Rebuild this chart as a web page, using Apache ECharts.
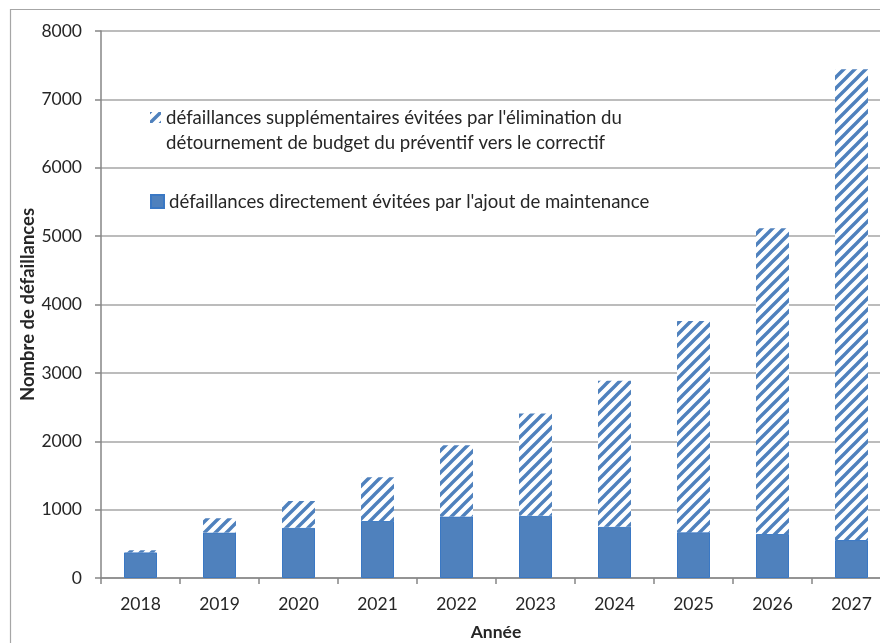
<!DOCTYPE html>
<html>
<head>
<meta charset="utf-8">
<script src="https://cdn.jsdelivr.net/npm/echarts@6/dist/echarts.min.js"></script>
<style>
html,body{margin:0;padding:0;background:#fff;}
#chart{width:880px;height:643px;}
</style>
</head>
<body>
<div id="chart"></div>
<script>
var years = ['2018','2019','2020','2021','2022','2023','2024','2025','2026','2027'];
var directAvoided = [375, 665, 735, 835, 900, 910, 750, 670, 645, 555];
var extraAvoided = [30, 210, 390, 640, 1040, 1495, 2135, 3090, 4470, 6885];
var yTicks = [0, 1000, 2000, 3000, 4000, 5000, 6000, 7000, 8000];
var nameDirect = "défaillances directement évitées par l'ajout de maintenance";
var nameExtra = "défaillances supplémentaires évitées par l'élimination du\ndétournement de budget du préventif vers le correctif";

var BLUE = '#4F81BD';
function makePattern(s, w) {
  var c = document.createElement('canvas');
  c.width = s; c.height = s;
  var g = c.getContext('2d');
  g.fillStyle = '#ffffff';
  g.fillRect(0, 0, s, s);
  g.strokeStyle = BLUE;
  g.lineWidth = w;
  g.beginPath();
  g.moveTo(-s, s); g.lineTo(s, -s);
  g.moveTo(-2, s + 2); g.lineTo(s + 2, -2);
  g.moveTo(0, 2 * s); g.lineTo(2 * s, 0);
  g.stroke();
  return c;
}
var pattern = {image: makePattern(11, 3.4), repeat: 'repeat'};

var FONT = 'Lato, "Open Sans", sans-serif';
var TXT = '#262626';

var chart = echarts.init(document.getElementById('chart'), null, {renderer: 'canvas'});
chart.setOption({
  backgroundColor: '#ffffff',
  animation: false,
  graphic: [{
    type: 'rect', left: 8, top: 7, silent: true,
    shape: {width: 900, height: 700},
    style: {fill: 'none', stroke: '#a6a6a6', lineWidth: 1.2}
  }],
  grid: {left: 101, top: 31, width: 790, height: 547, containLabel: false, outerBoundsMode: 'none'},
  legend: [{
    data: [nameExtra],
    formatter: function (n) { return '\n' + n; },
    left: 145, top: 75,
    itemWidth: 11, itemHeight: 11,
    icon: 'rect',
    textStyle: {fontFamily: FONT, fontSize: 18.6, color: TXT, lineHeight: 25},
    selectedMode: false
  }, {
    data: [nameDirect],
    left: 145, top: 187,
    itemWidth: 13, itemHeight: 13,
    icon: 'rect',
    textStyle: {fontFamily: FONT, fontSize: 18.6, color: TXT},
    selectedMode: false
  }],
  xAxis: {
    type: 'category',
    data: years,
    name: 'Année',
    nameLocation: 'middle',
    nameGap: 45,
    nameMoveOverlap: false,
    nameTextStyle: {fontFamily: FONT, fontSize: 17.5, fontWeight: 'bold', color: TXT},
    boundaryGap: true,
    axisLine: {lineStyle: {color: '#868686', width: 1.5}},
    axisTick: {show: true, alignWithLabel: false, length: 6, lineStyle: {color: '#868686', width: 1.5}},
    axisLabel: {fontFamily: FONT, fontSize: 17.5, color: TXT, margin: 17}
  },
  yAxis: {
    type: 'value',
    min: yTicks[0], max: yTicks[yTicks.length - 1], interval: 1000,
    name: 'Nombre de défaillances',
    nameLocation: 'middle',
    nameGap: 63,
    nameMoveOverlap: false,
    nameRotate: 90,
    nameTextStyle: {fontFamily: FONT, fontSize: 18.5, fontWeight: 'bold', color: TXT},
    axisLine: {show: true, lineStyle: {color: '#868686', width: 1.5}},
    axisTick: {show: true, length: 6, lineStyle: {color: '#868686', width: 1.5}},
    axisLabel: {fontFamily: FONT, fontSize: 17.5, color: TXT, margin: 19, formatter: function (v) { return String(v); }},
    splitLine: {show: true, lineStyle: {color: '#a6a6a6', width: 1.5}}
  },
  series: [{
    name: nameDirect,
    type: 'bar',
    stack: 'total',
    data: directAvoided,
    barWidth: 33,
    itemStyle: {color: BLUE, borderColor: '#3a78c4', borderWidth: 1}
  }, {
    name: nameExtra,
    type: 'bar',
    stack: 'total',
    data: extraAvoided,
    barWidth: 33,
    itemStyle: {color: pattern}
  }]
});
</script>
</body>
</html>
